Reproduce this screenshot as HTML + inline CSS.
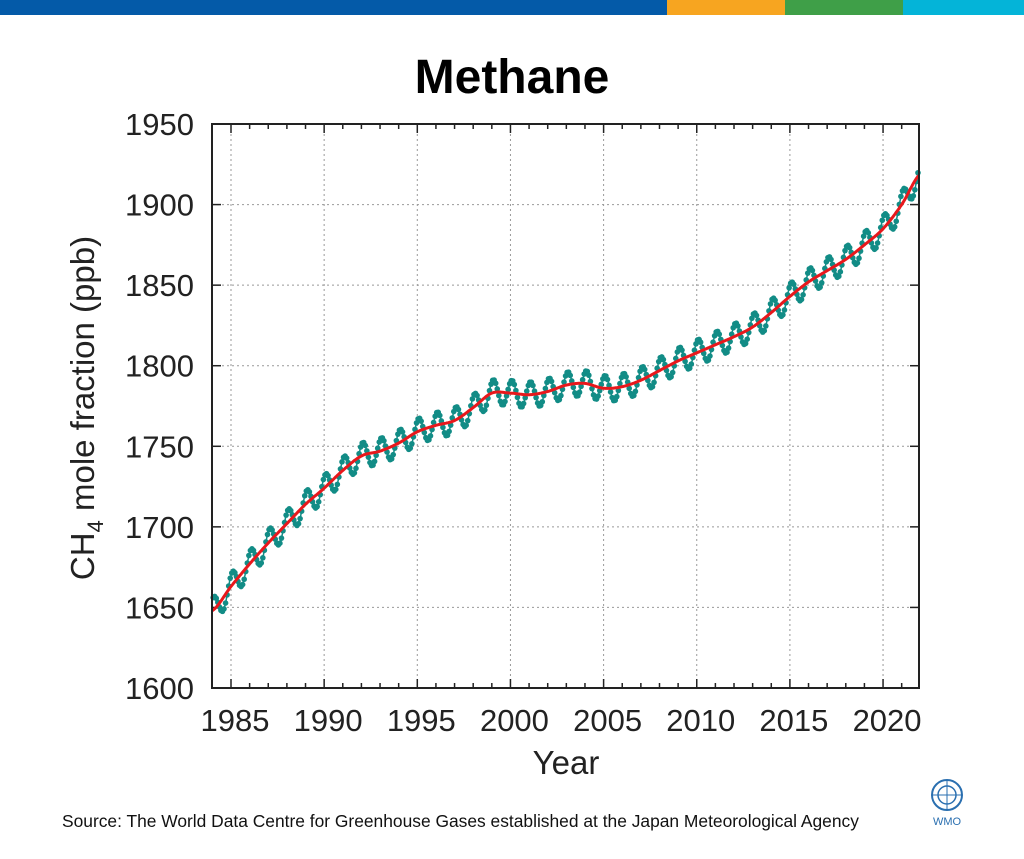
<!DOCTYPE html>
<html><head><meta charset="utf-8"><style>
html,body{margin:0;padding:0;background:#fff;width:1024px;height:859px;overflow:hidden}
</style></head><body>
<svg id="s" width="1024" height="859" xmlns="http://www.w3.org/2000/svg" font-family="Liberation Sans, sans-serif">
<rect x="0" y="0" width="667" height="15" fill="#045aa8"/>
<rect x="667" y="0" width="118" height="15" fill="#f7a520"/>
<rect x="785" y="0" width="118" height="15" fill="#3f9f48"/>
<rect x="903" y="0" width="121" height="15" fill="#04b4d8"/>
<text x="512" y="93" text-anchor="middle" font-size="48" font-weight="bold" fill="#000">Methane</text>
<g id="grid"></g>
<g id="data"></g>
<rect x="212" y="124" width="707" height="564" fill="none" stroke="#222" stroke-width="2"/>
<g id="labels" font-size="31" fill="#222"></g>
<text x="566" y="774" text-anchor="middle" font-size="33" fill="#222">Year</text>
<text transform="translate(94,408) rotate(-90)" text-anchor="middle" font-size="33" fill="#222">CH<tspan font-size="22" dy="9">4</tspan><tspan dy="-9"> mole fraction (ppb)</tspan></text>
<text x="62" y="827" font-size="17.4" fill="#111">Source: The World Data Centre for Greenhouse Gases established at the Japan Meteorological Agency</text>
<g transform="translate(947,795)">
<circle r="15" fill="none" stroke="#2a6fb0" stroke-width="2"/>
<circle r="9" fill="none" stroke="#2a6fb0" stroke-width="1.5"/>
<line x1="-15" y1="0" x2="15" y2="0" stroke="#2a6fb0" stroke-width="1"/>
<line x1="0" y1="-15" x2="0" y2="15" stroke="#2a6fb0" stroke-width="1"/>
<text x="0" y="30" text-anchor="middle" font-size="11" fill="#2a6fb0">WMO</text>
</g>
</svg>
<script>
const L=212,R=919,T=124,B=688;
const X=t=>231+(t-1985)*18.63, Y=v=>B-(v-1600)*1.6114;
const NS="http://www.w3.org/2000/svg";
function el(p,n,a,txt){const e=document.createElementNS(NS,n);for(const k in a)e.setAttribute(k,a[k]);if(txt!==undefined)e.textContent=txt;p.appendChild(e);return e;}
const g=document.getElementById('grid'),lb=document.getElementById('labels'),d=document.getElementById('data');
for(let v=1650;v<=1900;v+=50)el(g,'line',{x1:L,x2:R,y1:Y(v),y2:Y(v),stroke:'#999','stroke-width':1,'stroke-dasharray':'2,3'});
for(let yr=1985;yr<=2020;yr+=5)el(g,'line',{x1:X(yr),x2:X(yr),y1:T,y2:B,stroke:'#999','stroke-width':1,'stroke-dasharray':'2,3'});
for(let v=1600;v<=1950;v+=50){el(lb,'text',{x:194,y:Y(v)+11,'text-anchor':'end'},v);
 el(g,'line',{x1:L,x2:L+9,y1:Y(v),y2:Y(v),stroke:'#222','stroke-width':1.5});el(g,'line',{x1:R,x2:R-9,y1:Y(v),y2:Y(v),stroke:'#222','stroke-width':1.5});}
for(let yr=1985;yr<=2021;yr++){const big=yr%5==0?9:5;
 el(g,'line',{x1:X(yr),x2:X(yr),y1:B,y2:B-big,stroke:'#222','stroke-width':1.5});el(g,'line',{x1:X(yr),x2:X(yr),y1:T,y2:T+big,stroke:'#222','stroke-width':1.5});
 if(yr%5==0)el(lb,'text',{x:X(yr)+4,y:731,'text-anchor':'middle'},yr);}
const tr={1984:1648,1985:1663,1986:1677,1987:1690,1988:1702,1989:1714,1990:1724,1991:1735,1992:1744,1993:1747,1994:1752,1995:1759,1996:1763,1997:1766,1998:1774,1999:1783,2000:1783,2001:1782,2002:1784,2003:1788,2004:1789,2005:1786,2006:1787,2007:1791,2008:1797,2009:1803,2010:1808,2011:1813,2012:1818,2013:1824,2014:1833,2015:1843,2016:1852,2017:1859,2018:1866,2019:1875,2020:1885,2021:1900,2022:1919};
function T_(t){let a=Math.floor(t);if(a>=2022)a=2021;const f=t-a,p0=tr[a-1]??tr[a],p1=tr[a],p2=tr[a+1],p3=tr[a+2]??p2;
 return 0.5*((2*p1)+(-p0+p2)*f+(2*p0-5*p1+4*p2-p3)*f*f+(-p0+3*p1-3*p2+p3)*f*f*f);}
let pts=[];for(let t=1984;t<=2021.95;t+=1/24){pts.push(X(t).toFixed(1)+','+Y(T_(t)).toFixed(1));}
let dp=[];
for(let m=0;m<=455;m++){const t=1984+m/12+1/24;if(t>2021.95)break;const v=T_(t)+8*Math.cos(2*Math.PI*(t-1984.08));dp.push(X(t).toFixed(1)+','+Y(v).toFixed(1));el(d,'circle',{cx:X(t),cy:Y(v),r:2.8,fill:'#128c86'});}
el(d,'polyline',{points:dp.join(' '),fill:'none',stroke:'#128c86','stroke-width':1.5});
el(d,'polyline',{points:pts.join(' '),fill:'none',stroke:'#e8181c','stroke-width':3});
</script>
</body></html>
